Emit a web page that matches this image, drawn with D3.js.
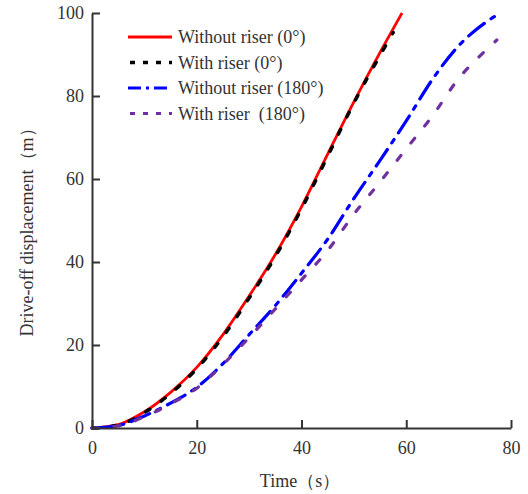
<!DOCTYPE html>
<meta charset="utf-8">
<style>
    body { margin: 0; background: #fff; }
    svg text { font-family: "Liberation Serif", "Times New Roman", serif; fill: #333; white-space: pre; }
    .axis path, .axis line { stroke: #333; stroke-width: 2; }
    .axis text { font-size: 18px; }
    .legend text { font-size: 18px; }
</style>
<svg width="528" height="494" font-family="Liberation Serif"></svg>
<script src="https://d3js.org/d3.v7.min.js"></script>
<script>

    // series values: [time (s), displacement (m)]
    var withoutRiser0 = [[0, 0], [5, 0.8], [10, 3.9], [15, 8.6], [20, 14.6], [25, 22.5], [30, 31.8],
        [35, 41.8], [40, 53.3], [45, 66], [50, 78.6], [55, 90.5], [59.2, 100]];
    var withRiser0 = [[0, 0], [5, 0.7], [10, 3.7], [15, 8.3], [20, 14.3], [25, 22.0], [30, 31.3],
        [35, 41.3], [40, 52.8], [45, 65.5], [50, 78.3], [55, 89.8], [57.5, 95.3]];
    var withoutRiser180 = [[0, 0], [5, 0.6], [10, 2.9], [15, 6.0], [20, 9.8], [25, 15.5], [30, 22.5],
        [35, 29.5], [40, 37.3], [45, 45.5], [50, 55.3], [55, 64.5], [60, 74], [65, 84], [70, 92.1],
        [75, 97.6], [78, 100]];
    var withRiser180 = [[0, 0], [5, 0.5], [10, 2.7], [15, 5.8], [20, 9.6], [25, 15.3], [30, 21.8],
        [35, 28.7], [40, 35.7], [45, 42.8], [50, 51.5], [55, 59.3], [60, 67.3], [65, 75.2], [70, 84.2],
        [75, 90.8], [77.3, 93.5]];

    var seriesNames = ["Without riser (0°)", "With riser (0°)", "Without riser (180°)", "With riser  (180°)"];
    var xTicks = [0, 20, 40, 60, 80];
    var yTicks = [0, 20, 40, 60, 80, 100];

    var styles = [
        {color: "#ff0000", width: 2.8, dash: null, legendDash: null},
        {color: "#000000", width: 3.5, dash: "5,14", legendDash: "5,8"},
        {color: "#0000ff", width: 3.2, dash: "20,8,4,8", legendDash: "13,5,3,5"},
        {color: "#7030a0", width: 3.2, dash: "6,16", legendDash: "5,8"}
    ];

    var svg = d3.select("svg"),
        margin = {top: 13, right: 17, bottom: 66, left: 92},
        width = +svg.attr("width") - margin.left - margin.right,
        height = +svg.attr("height") - margin.top - margin.bottom;

    var x = d3.scaleLinear().domain([0, 80]).range([0, width]),
        y = d3.scaleLinear().domain([0, 100]).range([height, 0]);

    var g = svg.append("g")
        .attr("transform", "translate(" + margin.left + "," + margin.top + ")");

    var series = [withoutRiser0, withRiser0, withoutRiser180, withRiser180];

    var line = d3.line()
        .x(function(d) { return x(d[0]); })
        .y(function(d) { return y(d[1]); })
        .curve(d3.curveMonotoneX);

    g.selectAll(".series")
        .data(series)
        .enter().append("path")
        .attr("class", "series")
        .attr("fill", "none")
        .attr("stroke", function(d, i) { return styles[i].color; })
        .attr("stroke-width", function(d, i) { return styles[i].width; })
        .attr("stroke-dasharray", function(d, i) { return styles[i].dash; })
        .attr("stroke-linecap", function(d, i) { return i === 0 ? "butt" : "round"; })
        .attr("d", line);

    g.append("g")
        .attr("class", "axis axis--x")
        .attr("transform", "translate(0," + height + ")")
        .call(d3.axisBottom(x).tickValues(xTicks).tickSizeInner(-8).tickSizeOuter(0).tickPadding(13));

    g.append("g")
        .attr("class", "axis axis--y")
        .call(d3.axisLeft(y).tickValues(yTicks).tickSizeInner(-8).tickSizeOuter(0).tickPadding(8));

    g.selectAll(".axis").attr("font-family", "Liberation Serif").attr("font-size", 18);

    // axis titles
    svg.append("text")
        .attr("x", 300)
        .attr("y", 487)
        .attr("text-anchor", "middle")
        .style("font-size", "18px")
        .text("Time（s）");

    svg.append("text")
        .attr("transform", "translate(33,228) rotate(-90)")
        .attr("text-anchor", "middle")
        .style("font-size", "18px")
        .text("Drive-off displacement（m）");

    // legend
    var legend = svg.append("g").attr("class", "legend");
    var rows = legend.selectAll("g")
        .data(seriesNames)
        .enter().append("g")
        .attr("transform", function(d, i) { return "translate(128," + (37 + i * 25.5) + ")"; });

    rows.append("line")
        .attr("x1", 0).attr("x2", 44)
        .attr("stroke", function(d, i) { return styles[i].color; })
        .attr("stroke-width", function(d, i) { return styles[i].width; })
        .attr("stroke-dasharray", function(d, i) { return styles[i].legendDash; })
        .attr("stroke-dashoffset", function(d, i) { return i === 1 || i === 3 ? -2 : 0; });

    rows.append("text")
        .attr("x", 50)
        .attr("y", 6)
        .text(function(d) { return d; });
</script>
